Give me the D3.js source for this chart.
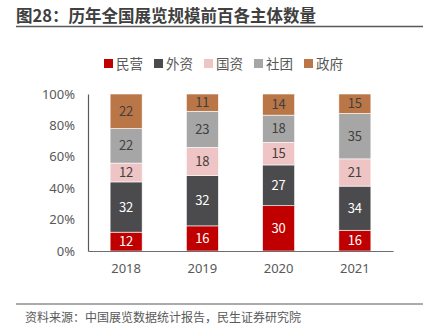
<!DOCTYPE html>
<html>
<head>
<meta charset="utf-8">
<script src="https://cdn.jsdelivr.net/npm/d3@7"></script>
<style>
  body { margin: 0; background: #fff; }
  svg { display: block; font-family: "Noto Sans CJK SC", "Noto Sans", sans-serif; }
</style>
</head>
<body>
<div class="chart"></div>
<script>
// data
const years = ["2018", "2019", "2020", "2021"];
const seriesNames = ["民营", "外资", "国资", "社团", "政府"];
const minying = [12, 16, 30, 16];
const waizi = [32, 32, 27, 34];
const guozi = [12, 18, 15, 21];
const shetuan = [22, 23, 18, 35];
const zhengfu = [22, 11, 14, 15];
const yTicks = [0, 0.2, 0.4, 0.6, 0.8, 1];

const colors = ["#C00000", "#4B4B4D", "#EFC4C4", "#A6A6A6", "#BA7646"];
const labelColors = ["#fff", "#fff", "#404040", "#404040", "#404040"];

const rows = years.map((y, i) => ({
    year: y,
    "民营": minying[i], "外资": waizi[i], "国资": guozi[i], "社团": shetuan[i], "政府": zhengfu[i]
}));

const stacked = d3.stack().keys(seriesNames).offset(d3.stackOffsetExpand)(rows);

const W = 425, H = 331;
const svg = d3.select(".chart").append("svg").attr("width", W).attr("height", H);

// title
svg.append("text")
    .attr("x", 16).attr("y", 22)
    .attr("fill", "#404040")
    .style("font-size", "16.5px").style("font-weight", "bold")
    .text("图28：历年全国展览规模前百各主体数量");
svg.append("line")
    .attr("x1", 16).attr("x2", 423).attr("y1", 26.5).attr("y2", 26.5)
    .attr("stroke", "#595959").attr("stroke-width", 1.5);

// legend
const legend = svg.append("g").attr("transform", "translate(104, 64)");
const legendX = [0, 50, 100, 150, 200];
seriesNames.forEach((name, i) => {
    const g = legend.append("g").attr("transform", `translate(${legendX[i]}, 0)`);
    g.append("rect").attr("x", 0).attr("y", -5).attr("width", 9).attr("height", 9).attr("fill", colors[i]);
    g.append("text").attr("x", 12).attr("y", 0).attr("dy", "0.35em")
        .attr("fill", "#595959").style("font-size", "13.5px").text(name);
});

// scales
const x = d3.scaleBand().domain(years).range([88, 393]).paddingInner(0.58).paddingOuter(0.29);
const y = d3.scaleLinear().domain([0, 1]).range([251, 94]);

// bars
stacked.forEach((layer, li) => {
    const g = svg.append("g");
    g.selectAll("rect").data(layer).enter().append("rect")
        .attr("x", d => x(d.data.year))
        .attr("width", x.bandwidth())
        .attr("y", d => y(d[1]))
        .attr("height", d => y(d[0]) - y(d[1]))
        .attr("fill", colors[li])
        .attr("stroke", "#fff").attr("stroke-width", 0.6);
    g.selectAll("text").data(layer).enter().append("text")
        .attr("x", d => x(d.data.year) + x.bandwidth() / 2)
        .attr("y", d => (y(d[0]) + y(d[1])) / 2)
        .attr("dy", "0.36em")
        .attr("text-anchor", "middle")
        .attr("fill", labelColors[li])
        .style("font-size", "13px")
        .text(d => d.data[layer.key]);
});

// axes
const yAxis = svg.append("g").attr("transform", "translate(88,0)")
    .call(d3.axisLeft(y).tickValues(yTicks).tickFormat(d3.format(".0%")).tickSize(0).tickPadding(13));
yAxis.select(".domain").attr("stroke", "#595959").attr("stroke-width", 1.2);
yAxis.selectAll("text").attr("fill", "#595959").style("font-size", "13px")
    .style("font-family", "'Noto Sans', sans-serif");

const xAxis = svg.append("g").attr("transform", "translate(0,251)")
    .call(d3.axisBottom(x).tickSize(0).tickPadding(13));
xAxis.select(".domain").attr("stroke", "#6e6e6e").attr("stroke-width", 1.2);
xAxis.selectAll("text").attr("fill", "#595959").style("font-size", "13px")
    .style("font-family", "'Noto Sans', sans-serif");

// footer
svg.append("line")
    .attr("x1", 16).attr("x2", 423).attr("y1", 304).attr("y2", 304)
    .attr("stroke", "#595959").attr("stroke-width", 1);
svg.append("text")
    .attr("x", 25).attr("y", 322)
    .attr("fill", "#595959")
    .style("font-size", "12px")
    .text("资料来源：中国展览数据统计报告，民生证券研究院");
</script>
</body>
</html>
